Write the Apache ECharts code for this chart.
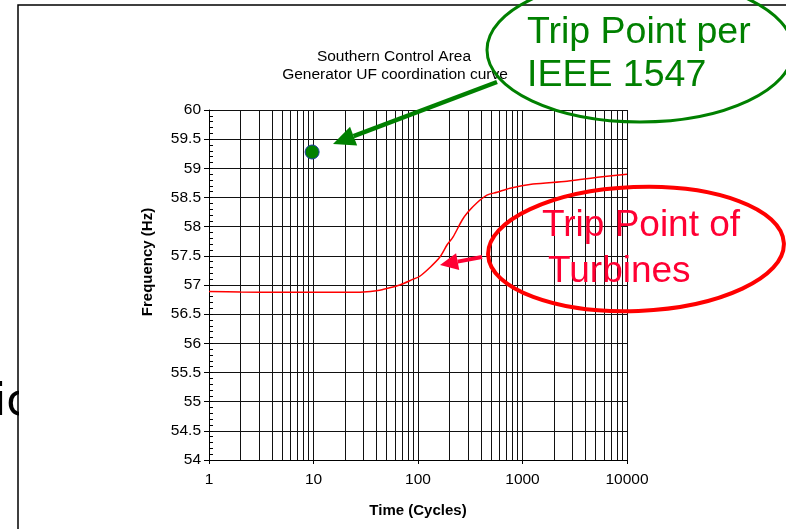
<!doctype html>
<html>
<head>
<meta charset="utf-8">
<title>Generator UF coordination curve</title>
<script src="https://cdn.jsdelivr.net/npm/echarts@6/dist/echarts.min.js"></script>
<style>
  html, body { margin: 0; padding: 0; background: #fff; }
  #main { width: 786px; height: 529px; }
</style>
</head>
<body>
<div id="main"></div>
<script>
// turbine trip curve (cycles, Hz)
var time = [1, 2, 5, 10, 20, 30, 40, 50, 67, 90, 104, 130, 162, 190, 216, 264, 301, 367, 457, 570, 759, 1259, 2666, 5517, 10000];
var freq = [56.89, 56.88, 56.875, 56.875, 56.875, 56.88, 56.9, 56.94, 57.0, 57.1, 57.15, 57.3, 57.48, 57.69, 57.82, 58.11, 58.25, 58.41, 58.54, 58.59, 58.66, 58.73, 58.78, 58.85, 58.9];
// IEEE 1547 trip point
var ieeePoint = [9.7, 59.28];
// minor vertical grid lines of the log axis
var minorX = [2, 3, 4, 5, 6, 7, 8, 9, 20, 30, 40, 50, 60, 70, 80, 90,
  200, 300, 400, 500, 600, 700, 800, 900, 2000, 3000, 4000, 5000, 6000, 7000, 8000, 9000];

var FONT = '"Liberation Sans", Arial, sans-serif';
var GREEN = '#008000';

function arrow(x1, y1, x2, y2, w, headLen, headW, color) {
  var ang = Math.atan2(y2 - y1, x2 - x1);
  var bx = x2 - headLen * Math.cos(ang), by = y2 - headLen * Math.sin(ang);
  var px = -Math.sin(ang) * headW / 2, py = Math.cos(ang) * headW / 2;
  return [
    { type: 'line', z: 20, shape: { x1: x1, y1: y1, x2: bx, y2: by }, style: { stroke: color, lineWidth: w } },
    { type: 'polygon', z: 20, shape: { points: [[x2, y2], [bx + px, by + py], [bx - px, by - py]] }, style: { fill: color } }
  ];
}

var graphics = [
  // cut-off slide text behind the chart
  { type: 'text', z: 1, x: -6, y: 404, style: { text: 'ic', font: '44px "DejaVu Sans", sans-serif', fill: '#000', align: 'left', verticalAlign: 'middle' } },
  { type: 'rect', z: 2, shape: { x: 19, y: 360, width: 30, height: 80 }, style: { fill: '#fff' } },
  { type: 'rect', z: 3, shape: { x: 18, y: 5, width: 800, height: 560 }, style: { fill: null, stroke: '#000', lineWidth: 1.5 } },
  { type: 'text', z: 5, x: 394, y: 57, style: { text: 'Southern Control Area', font: '15.5px ' + FONT, fill: '#000', align: 'center', verticalAlign: 'middle' } },
  { type: 'text', z: 5, x: 395, y: 75, style: { text: 'Generator UF coordination curve', font: '15.5px ' + FONT, fill: '#000', align: 'center', verticalAlign: 'middle' } },
  { type: 'text', z: 5, x: 148, y: 262, rotation: Math.PI / 2, style: { text: 'Frequency (Hz)', font: 'bold 15px ' + FONT, fill: '#000', align: 'center', verticalAlign: 'middle' } },
  // green callout
  { type: 'ellipse', z: 20, shape: { cx: 640, cy: 50, rx: 153, ry: 72 }, style: { fill: null, stroke: GREEN, lineWidth: 3 } },
  { type: 'text', z: 20, x: 527, y: 52, style: { text: 'Trip Point per', font: '37.5px ' + FONT, fill: GREEN, verticalAlign: 'bottom' } },
  { type: 'text', z: 20, x: 527, y: 95, style: { text: 'IEEE 1547', font: '37.5px ' + FONT, fill: GREEN, verticalAlign: 'bottom' } },
  // red callout
  { type: 'ellipse', z: 20, rotation: 0.04, originX: 636, originY: 249, shape: { cx: 636, cy: 249, rx: 148, ry: 62 }, style: { fill: null, stroke: '#ff0000', lineWidth: 4 } },
  { type: 'text', z: 20, x: 542, y: 244, style: { text: 'Trip Point of', font: '37px ' + FONT, fill: '#ff0033', verticalAlign: 'bottom' } },
  { type: 'text', z: 20, x: 548, y: 290, style: { text: 'Turbines', font: '37px ' + FONT, fill: '#ff0033', verticalAlign: 'bottom' } }
].concat(arrow(497, 82, 333, 144, 4.5, 22, 20, GREEN))
 .concat(arrow(482, 257, 440, 265, 4, 18, 17, '#ff0033'));

var chart = echarts.init(document.getElementById('main'));
chart.setOption({
  backgroundColor: '#fff',
  animation: false,
  grid: { left: 209, right: 159, top: 110, bottom: 69 },
  xAxis: {
    type: 'log',
    logBase: 10,
    min: 1,
    max: 10000,
    name: 'Time (Cycles)',
    nameLocation: 'middle',
    nameGap: 43,
    nameTextStyle: { fontFamily: FONT, fontSize: 15, fontWeight: 'bold', color: '#000', verticalAlign: 'top' },
    axisLine: { lineStyle: { color: '#000', width: 1 } },
    axisTick: { length: 4, lineStyle: { color: '#000' } },
    axisLabel: { fontFamily: FONT, fontSize: 15.5, color: '#000', margin: 12, formatter: function (v) { return String(Math.round(v)); } },
    splitLine: { show: true, lineStyle: { color: '#111', width: 1 } }
  },
  yAxis: [{
    type: 'value',
    min: 54,
    max: 60,
    interval: 0.5,
    axisLine: { show: true, lineStyle: { color: '#000', width: 1 } },
    axisTick: { show: true, length: 5, lineStyle: { color: '#000' } },
    axisLabel: { fontFamily: FONT, fontSize: 15.5, color: '#000', margin: 8 },
    splitLine: { show: true, lineStyle: { color: '#111', width: 1 } }
  }, {
    type: 'value',
    position: 'left',
    min: 54,
    max: 60,
    interval: 0.1,
    axisLine: { show: false },
    axisTick: { show: true, inside: true, length: 4, lineStyle: { color: '#000' } },
    axisLabel: { show: false },
    splitLine: { show: false }
  }],
  series: [{
    name: 'minor grid',
    type: 'line',
    data: [],
    z: 1,
    silent: true,
    markLine: {
      silent: true,
      symbol: ['none', 'none'],
      label: { show: false },
      lineStyle: { color: '#111', width: 1, type: 'solid' },
      emphasis: { disabled: true },
      data: minorX.map(function (v) { return { xAxis: v }; })
    }
  }, {
    name: 'Turbine trip',
    type: 'line',
    z: 5,
    smooth: 0.3,
    showSymbol: false,
    lineStyle: { color: '#ff0000', width: 1.5 },
    data: time.map(function (t, i) { return [t, freq[i]]; })
  }, {
    name: 'IEEE 1547',
    type: 'scatter',
    z: 6,
    symbolSize: 14,
    itemStyle: { color: GREEN, borderColor: '#1a3fa0', borderWidth: 1, opacity: 1 },
    data: [ieeePoint]
  }],
  graphic: graphics
});
</script>
</body>
</html>
